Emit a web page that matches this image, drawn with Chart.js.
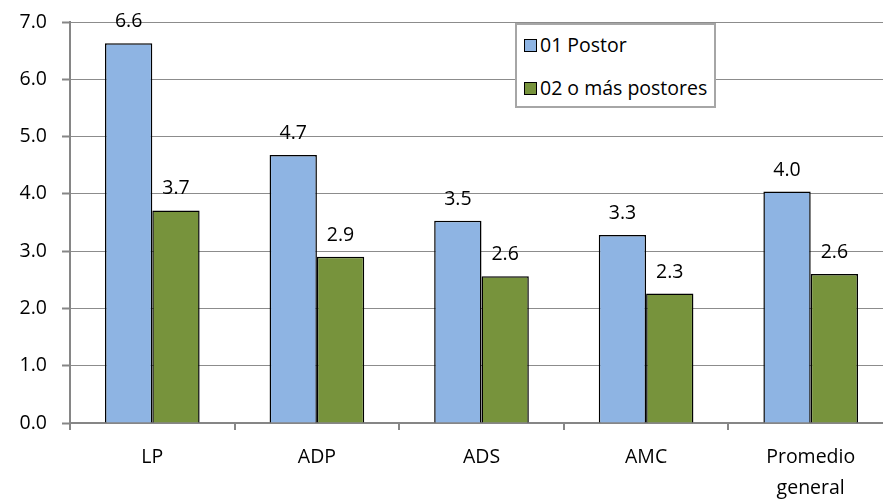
<!DOCTYPE html>
<html lang="es">
<head>
<meta charset="utf-8">
<title>Postores por tipo de proceso</title>
<script src="https://cdn.jsdelivr.net/npm/chart.js@4.4.1/dist/chart.umd.min.js"></script>
<style>
  html, body { margin: 0; padding: 0; background: #fff; overflow: hidden; }
  #wrap { position: relative; width: 900px; height: 500px; }
  #legend {
    position: absolute; left: 515px; top: 23px; width: 201px; height: 85px;
    box-sizing: border-box; border: 2px solid #a6a6a6; background: #fff;
    font-family: 'Open Sans', sans-serif; font-size: 19.5px; color: #000;
  }
  #legend .item { position: absolute; left: 7px; display: flex; align-items: center; white-space: nowrap; line-height: 26px; }
  #legend .swatch { width: 11px; height: 11px; border: 1px solid #000; margin-right: 3px; }
</style>
</head>
<body>
<div id="wrap">
  <canvas id="chart" width="900" height="500"></canvas>
  <div id="legend"></div>
</div>
<script>
// Datos
const categories = ['LP', 'ADP', 'ADS', 'AMC', ['Promedio', 'general']];
const seriesNames = ['01 Postor', '02 o más postores'];
const unPostor = [6.63, 4.68, 3.53, 3.28, 4.04];
const dosOMas = [3.71, 2.90, 2.56, 2.26, 2.60];
const yTicks = [0, 1, 2, 3, 4, 5, 6, 7];

const palette = {
  blue: '#8EB4E3',
  green: '#77933C',
  border: '#000000',
  axis: '#868686',
  grid: '#8c8c8c'
};
const fontFamily = "'Open Sans', sans-serif";
const fontSize = 19.5;

// Etiquetas de valor sobre cada barra
const valueLabels = {
  id: 'valueLabels',
  afterDatasetsDraw(chart) {
    const ctx = chart.ctx;
    ctx.save();
    ctx.font = fontSize + 'px ' + fontFamily;
    ctx.fillStyle = '#000';
    ctx.textAlign = 'center';
    ctx.textBaseline = 'alphabetic';
    chart.data.datasets.forEach((ds, i) => {
      chart.getDatasetMeta(i).data.forEach((bar, j) => {
        ctx.fillText(ds.data[j].toFixed(1), bar.x, bar.y - 16);
      });
    });
    ctx.restore();
  }
};

const chart = new Chart(document.getElementById('chart'), {
  type: 'bar',
  data: {
    labels: categories,
    datasets: [
      { label: seriesNames[0], data: unPostor, backgroundColor: palette.blue, borderColor: palette.border, borderWidth: 1.5 },
      { label: seriesNames[1], data: dosOMas, backgroundColor: palette.green, borderColor: palette.border, borderWidth: 1.5 }
    ]
  },
  options: {
    responsive: false,
    animation: false,
    events: [],
    categoryPercentage: 0.575,
    barPercentage: 1,
    layout: { padding: { top: 22, right: 7, left: 0, bottom: 0 } },
    plugins: { legend: { display: false }, tooltip: { enabled: false } },
    scales: {
      x: {
        grid: { display: true, drawOnChartArea: false, tickLength: 7, color: palette.axis, lineWidth: 2 },
        border: { color: palette.axis, width: 2 },
        ticks: { color: '#000', padding: 12, font: { family: fontFamily, size: fontSize, lineHeight: 1.6 } },
        afterFit: (scale) => { scale.height = 77; }
      },
      y: {
        min: 0,
        max: 7,
        afterBuildTicks: (scale) => { scale.ticks = yTicks.map(v => ({ value: v })); },
        grid: { color: palette.grid, lineWidth: 1, borderDash: [2, 2], tickLength: 8, tickColor: palette.axis, tickWidth: 2 },
        border: { color: palette.axis, width: 2 },
        ticks: { color: '#000', padding: 15, font: { family: fontFamily, size: fontSize }, callback: (v) => Number(v).toFixed(1) },
        afterFit: (scale) => { scale.width = 70; scale.paddingTop = 0; scale.paddingBottom = 0; }
      }
    }
  },
  plugins: [valueLabels]
});

// Leyenda dentro del área del gráfico
const legend = document.getElementById('legend');
[palette.blue, palette.green].forEach((color, i) => {
  const item = document.createElement('div');
  item.className = 'item';
  item.style.top = (i === 0 ? 7 : 50) + 'px';
  item.innerHTML = '<span class="swatch" style="background:' + color + '"></span><span>' + seriesNames[i] + '</span>';
  legend.appendChild(item);
});
</script>
</body>
</html>
